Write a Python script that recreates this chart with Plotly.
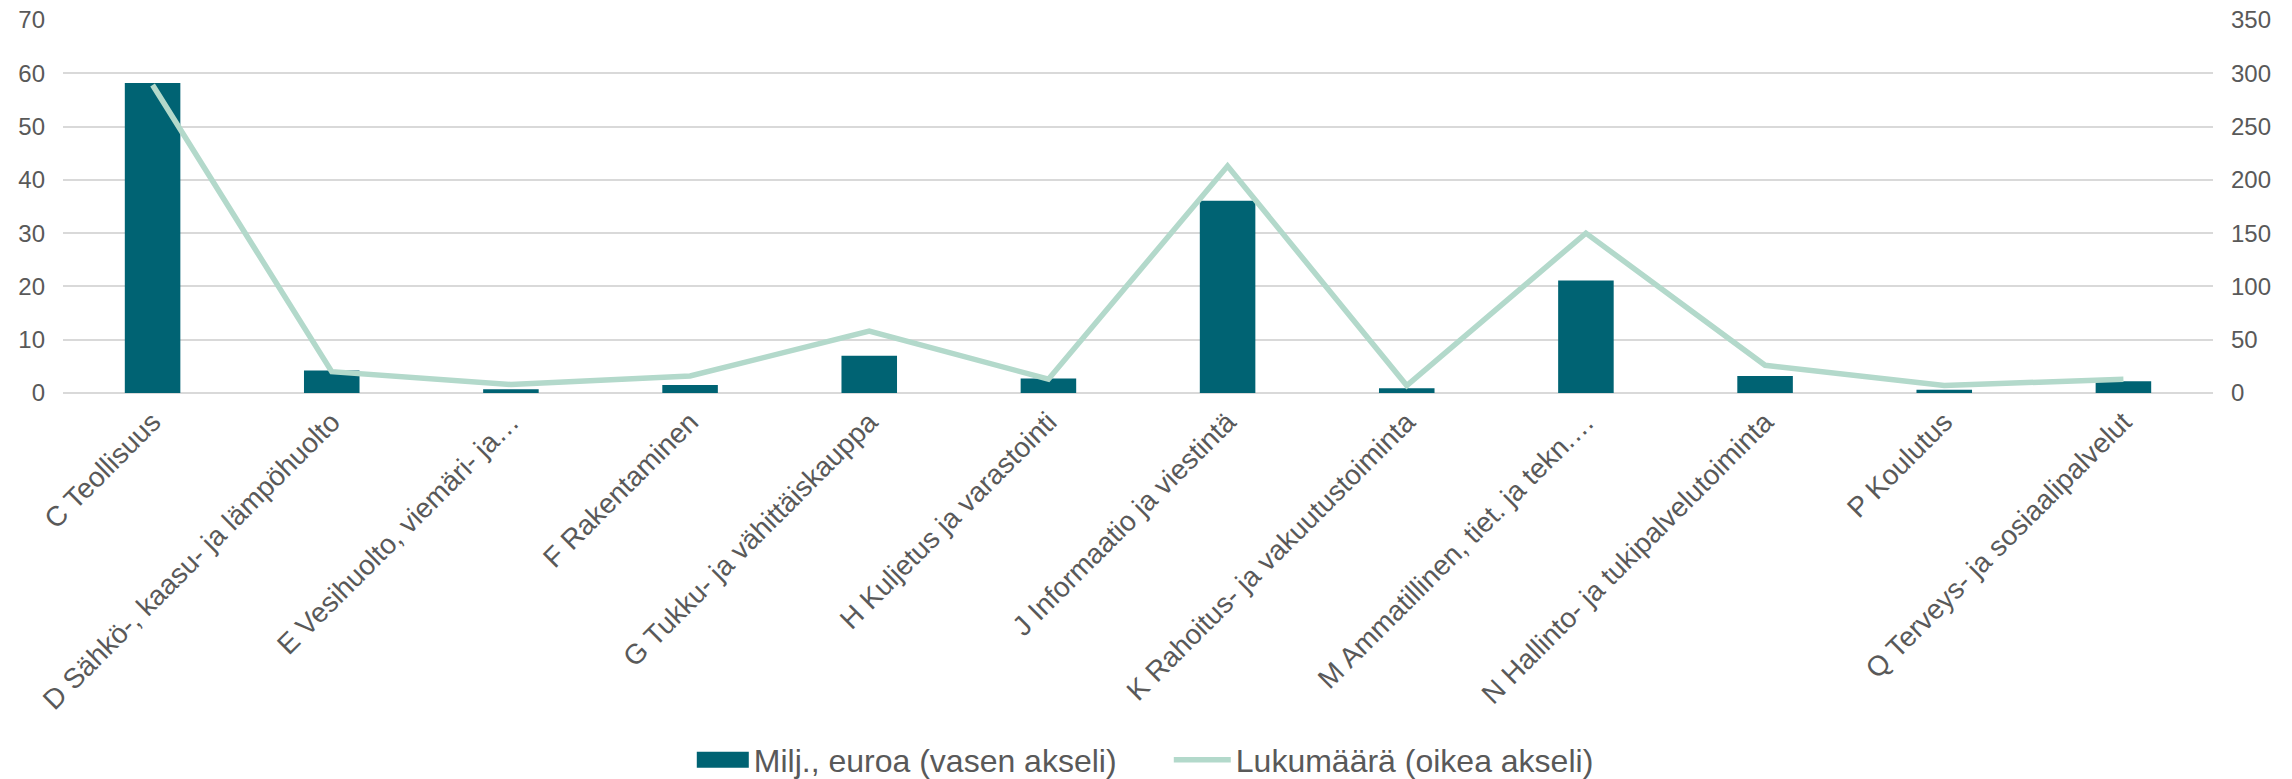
import plotly.graph_objects as go

categories = [
    "C Teollisuus",
    "D Sähkö-, kaasu- ja lämpöhuolto",
    "E Vesihuolto, viemäri- ja…",
    "F Rakentaminen",
    "G Tukku- ja vähittäiskauppa",
    "H Kuljetus ja varastointi",
    "J Informaatio ja viestintä",
    "K Rahoitus- ja vakuutustoiminta",
    "M Ammatillinen, tiet. ja tekn.…",
    "N Hallinto- ja tukipalvelutoiminta",
    "P Koulutus",
    "Q Terveys- ja sosiaalipalvelut",
]
milj_euroa = [58.2, 4.2, 0.7, 1.5, 7.0, 2.7, 36.1, 0.9, 21.1, 3.2, 0.6, 2.2]
lukumaara = [289, 20, 8, 16, 58, 13, 213, 7, 150, 26, 7, 13]

left_ticks = [0, 10, 20, 30, 40, 50, 60, 70]
right_ticks = [0, 50, 100, 150, 200, 250, 300, 350]

FONT = "Liberation Sans, Arial, sans-serif"
TXT = "#595959"
GRID = "#d9d9d9"
BAR_COLOR = "#006373"
LINE_COLOR = "#b3d9cb"

fig = go.Figure()
fig.add_trace(go.Bar(
    x=categories, y=milj_euroa, name="Milj., euroa (vasen akseli)",
    marker=dict(color=BAR_COLOR, line=dict(width=0)),
    yaxis="y", legendwidth=410,
))
fig.add_trace(go.Scatter(
    x=categories, y=lukumaara, name="Lukumäärä (oikea akseli)",
    mode="lines", line=dict(color=LINE_COLOR, width=5.5),
    yaxis="y2",
))

fig.update_layout(
    width=2292, height=779,
    margin=dict(l=63, r=79, t=20, b=386, autoexpand=False),
    paper_bgcolor="white", plot_bgcolor="white",
    font=dict(family=FONT, color=TXT, size=24),
    bargap=0.69,
    showlegend=True,
    legend=dict(
        orientation="h", xref="container", yref="container",
        x=0.4986, xanchor="center", y=0.0244, yanchor="middle",
        font=dict(size=32, color=TXT), itemwidth=57,
        traceorder="normal", borderwidth=0, bgcolor="rgba(0,0,0,0)",
    ),
    xaxis=dict(
        tickangle=-45, tickfont=dict(size=28, color=TXT),
        showgrid=False, showline=False, ticks="",
        ticklabelstandoff=6, automargin=False,
    ),
    yaxis=dict(
        range=[0, 70], tickvals=left_ticks, showgrid=True, gridcolor=GRID,
        gridwidth=2, zeroline=True, zerolinecolor=GRID, zerolinewidth=2,
        showline=False, ticks="", tickfont=dict(size=24, color=TXT),
        ticklabelstandoff=17, automargin=False,
    ),
    yaxis2=dict(
        range=[0, 350], tickvals=right_ticks, overlaying="y", side="right",
        showgrid=False, zeroline=False, showline=False, ticks="",
        tickfont=dict(size=24, color=TXT), ticklabelstandoff=17,
        automargin=False,
    ),
)

# remove the default page margin and widen the bar legend swatch
post_js = """
document.body.style.margin = '0';
document.body.style.padding = '0';
var gd = document.getElementById('{plot_id}');
function fixSwatch() {
  var items = gd.querySelectorAll('g.legend g.traces');
  if (!items.length) return;
  var paths = items[0].querySelectorAll('g.legendpoints path');
  paths.forEach(function(p) {
    p.setAttribute('transform', 'translate(0,0)');
    p.setAttribute('d', 'M10,-8H62V8H10Z');
  });
}
fixSwatch();
if (gd.on) { gd.on('plotly_afterplot', fixSwatch); }
"""

fig.write_html("out.html", post_script=post_js,
               config={"displayModeBar": False})
